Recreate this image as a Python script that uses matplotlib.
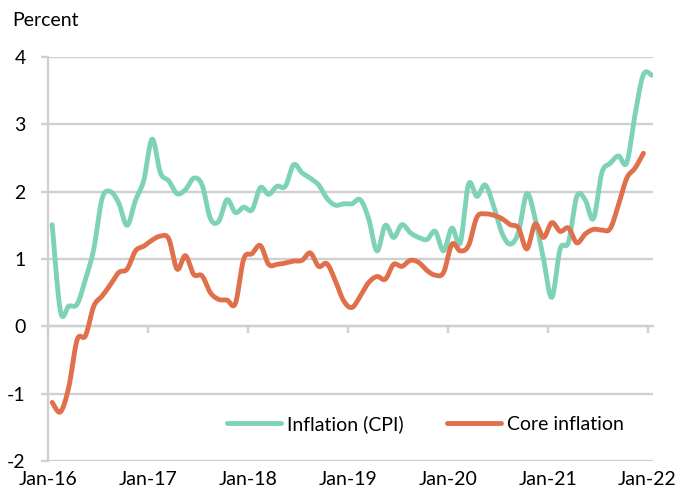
import numpy as np
import matplotlib
matplotlib.use("Agg")
import matplotlib.pyplot as plt

plt.rcParams['font.family'] = ['Lato', 'DejaVu Sans']

# ---- data (monthly, Jan-16 onwards) ----
cpi = [1.51, 0.22, 0.30, 0.33, 0.70, 1.15, 1.90, 2.00, 1.83, 1.50, 1.87, 2.17,
       2.78, 2.28, 2.16, 1.97, 2.03, 2.20, 2.10, 1.60, 1.56, 1.88, 1.69, 1.77,
       1.73, 2.06, 1.96, 2.08, 2.08, 2.40, 2.28, 2.20, 2.10, 1.90, 1.80, 1.82,
       1.82, 1.88, 1.60, 1.12, 1.50, 1.32, 1.51, 1.39, 1.32, 1.29, 1.41, 1.12,
       1.46, 1.24, 2.11, 1.93, 2.10, 1.79, 1.39, 1.22, 1.40, 1.97, 1.60, 1.00,
       0.43, 1.15, 1.25, 1.93, 1.88, 1.60, 2.28, 2.42, 2.53, 2.43, 3.15, 3.74,
       3.73]
core = [-1.13, -1.27, -0.90, -0.20, -0.14, 0.30, 0.45, 0.62, 0.80, 0.85, 1.12, 1.19,
        1.28, 1.34, 1.30, 0.85, 1.05, 0.77, 0.75, 0.50, 0.40, 0.39, 0.34, 1.00,
        1.08, 1.20, 0.92, 0.92, 0.94, 0.97, 0.98, 1.09, 0.89, 0.93, 0.68, 0.38,
        0.28, 0.45, 0.65, 0.74, 0.70, 0.92, 0.89, 0.98, 0.95, 0.83, 0.76, 0.80,
        1.22, 1.12, 1.20, 1.62, 1.67, 1.65, 1.60, 1.51, 1.46, 1.15, 1.52, 1.32,
        1.54, 1.41, 1.46, 1.24, 1.37, 1.44, 1.43, 1.45, 1.80, 2.20, 2.35, 2.57]
tick_labels = ['Jan-16', 'Jan-17', 'Jan-18', 'Jan-19', 'Jan-20', 'Jan-21', 'Jan-22']
y_ticks = [-2, -1, 0, 1, 2, 3, 4]
series_names = ['Inflation (CPI)', 'Core inflation']

CPI_COLOR = '#7ED2B8'
CORE_COLOR = '#E0704C'
GRID = '#D0D0D0'
FS = 14


def smooth(x, y, n=16):
    """Excel-style smoothed line (Catmull-Rom Bezier)."""
    x = np.asarray(x, float)
    y = np.asarray(y, float)
    P = np.column_stack([x, y])
    P = np.vstack([P[0], P, P[-1]])
    out = []
    t = np.linspace(0, 1, n, endpoint=False)[:, None]
    for k in range(1, len(P) - 2):
        p0, p1, p2, p3 = P[k - 1], P[k], P[k + 1], P[k + 2]
        c1 = p1 + (p2 - p0) / 6.0
        c2 = p2 - (p3 - p1) / 6.0
        seg = ((1 - t) ** 3) * p1 + 3 * ((1 - t) ** 2) * t * c1 + 3 * (1 - t) * t ** 2 * c2 + t ** 3 * p2
        out.append(seg)
    out.append(P[-2][None, :])
    out = np.vstack(out)
    return out[:, 0], out[:, 1]


fig = plt.figure(figsize=(6.78, 4.98), dpi=100)
ax = fig.add_axes([48 / 678, 1 - 461 / 498, 605 / 678, 404 / 498])

x_cpi = np.arange(len(cpi)) + 0.5
x_core = np.arange(len(core)) + 0.5

sx, sy = smooth(x_cpi, cpi)
ax.plot(sx, sy, color=CPI_COLOR, lw=3.5, solid_capstyle='round', label=series_names[0], zorder=3)
sx, sy = smooth(x_core, core)
ax.plot(sx, sy, color=CORE_COLOR, lw=3.5, solid_capstyle='round', label=series_names[1], zorder=4)

ax.set_xlim(0, 72.65)
ax.set_ylim(-2, 4)
ax.set_yticks(y_ticks)
ax.set_yticklabels([str(v) for v in y_ticks])
ax.yaxis.grid(True, color=GRID, lw=1.7)
ax.set_axisbelow(True)

for s in ['top', 'right']:
    ax.spines[s].set_visible(False)
ax.spines['left'].set_color(GRID)
ax.spines['left'].set_linewidth(1.7)
ax.spines['bottom'].set_position(('data', 0))
ax.spines['bottom'].set_color(GRID)
ax.spines['bottom'].set_linewidth(1.7)

ax.tick_params(axis='y', direction='out', length=5, width=1.7, color=GRID,
               labelsize=FS, pad=11, labelcolor='black')
xt = np.arange(len(tick_labels)) * 12
ax.set_xticks(xt)
ax.tick_params(axis='x', direction='out', length=5, width=1.7, color=GRID, labelbottom=False)

sec = ax.secondary_xaxis('bottom')
sec.set_xticks(xt)
sec.set_xticklabels(tick_labels)
sec.tick_params(axis='x', length=0, labelsize=FS, pad=7)
sec.spines['bottom'].set_visible(False)

fig.text(12 / 678, 1 - 20 / 498, 'Percent', fontsize=FS, ha='left', va='center')

leg = ax.legend(loc='center left', bbox_to_anchor=(0.296, (461 - 424) / 404), ncol=2,
                frameon=False, fontsize=FS, handlelength=2.78, handletextpad=0.32,
                columnspacing=2.2, borderpad=0, borderaxespad=0)

fig.savefig('out.png', dpi=100)
